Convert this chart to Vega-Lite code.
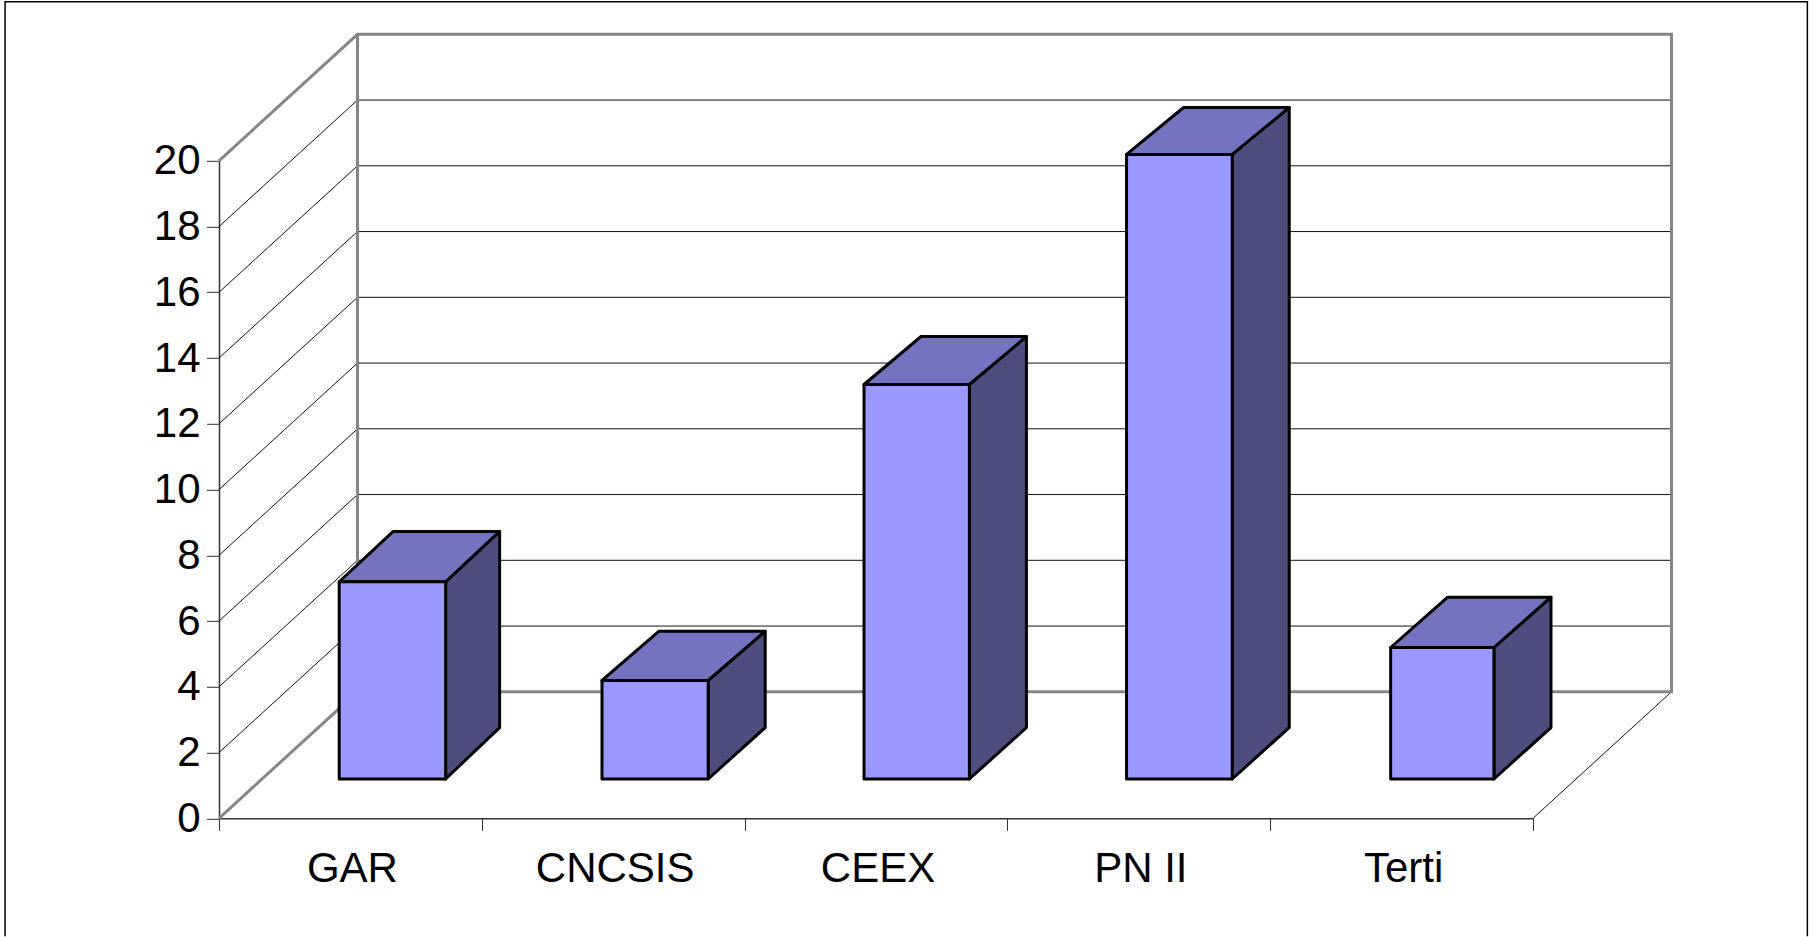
{
"$schema":"https://vega.github.io/schema/vega-lite/v6.json",
"width":1314,"height":657.5,
"autosize":"none",
"padding":{"left":219,"top":160.8,"right":285,"bottom":118.7},
"background":"white",
"view":{"stroke":null},
"datasets":{
"frame":[{"part":"frame","i":1,"x":-0.814,"y":-3.59},{"part":"frame","i":2,"x":-0.814,"y":24.84},{"part":"frame","i":3,"x":6.044,"y":24.84},{"part":"frame","i":4,"x":6.044,"y":-3.59}],
"walls":[
{"part":"outer","i":1,"x":0,"y":20},{"part":"outer","i":2,"x":0.527,"y":23.848},{"part":"outer","i":3,"x":5.527,"y":23.848},{"part":"outer","i":4,"x":5.527,"y":3.848},{"part":"outer","i":5,"x":0.527,"y":3.848},{"part":"outer","i":6,"x":0,"y":0},
{"part":"corner","i":1,"x":0.527,"y":3.848},{"part":"corner","i":2,"x":0.527,"y":23.848}],
"grid":[
{"part":"floor","i":1,"x":5,"y":0},{"part":"floor","i":2,"x":5.527,"y":3.848},
{"part":"g2","i":1,"x":0,"y":2},{"part":"g2","i":2,"x":0.527,"y":5.848},{"part":"g2","i":3,"x":5.527,"y":5.848},
{"part":"g4","i":1,"x":0,"y":4},{"part":"g4","i":2,"x":0.527,"y":7.848},{"part":"g4","i":3,"x":5.527,"y":7.848},
{"part":"g6","i":1,"x":0,"y":6},{"part":"g6","i":2,"x":0.527,"y":9.848},{"part":"g6","i":3,"x":5.527,"y":9.848},
{"part":"g8","i":1,"x":0,"y":8},{"part":"g8","i":2,"x":0.527,"y":11.848},{"part":"g8","i":3,"x":5.527,"y":11.848},
{"part":"g10","i":1,"x":0,"y":10},{"part":"g10","i":2,"x":0.527,"y":13.848},{"part":"g10","i":3,"x":5.527,"y":13.848},
{"part":"g12","i":1,"x":0,"y":12},{"part":"g12","i":2,"x":0.527,"y":15.848},{"part":"g12","i":3,"x":5.527,"y":15.848},
{"part":"g14","i":1,"x":0,"y":14},{"part":"g14","i":2,"x":0.527,"y":17.848},{"part":"g14","i":3,"x":5.527,"y":17.848},
{"part":"g16","i":1,"x":0,"y":16},{"part":"g16","i":2,"x":0.527,"y":19.848},{"part":"g16","i":3,"x":5.527,"y":19.848},
{"part":"g18","i":1,"x":0,"y":18},{"part":"g18","i":2,"x":0.527,"y":21.848},{"part":"g18","i":3,"x":5.527,"y":21.848}],
"bars":[
{"category":"GAR","y":6,"x":0.293,"x2":0.698},
{"category":"CNCSIS","y":3,"x":1.293,"x2":1.697},
{"category":"CEEX","y":12,"x":2.29,"x2":2.691},
{"category":"PN II","y":19,"x":3.289,"x2":3.691},
{"category":"Terti","y":4,"x":4.294,"x2":4.687}],
"sides":[
{"category":"GAR","x":0.698,"y":6,"y2":0},{"category":"GAR","x":0.9035,"y":7.53,"y2":1.565},
{"category":"CNCSIS","x":1.697,"y":3,"y2":0},{"category":"CNCSIS","x":1.914,"y":4.495,"y2":1.565},
{"category":"CEEX","x":2.691,"y":12,"y2":0},{"category":"CEEX","x":2.908,"y":13.46,"y2":1.565},
{"category":"PN II","x":3.691,"y":19,"y2":0},{"category":"PN II","x":3.908,"y":20.425,"y2":1.565},
{"category":"Terti","x":4.687,"y":4,"y2":0},{"category":"Terti","x":4.904,"y":5.53,"y2":1.565}],
"tops":[
{"category":"GAR","y":6,"x":0.293,"x2":0.698},{"category":"GAR","y":7.53,"x":0.4985,"x2":0.9035},
{"category":"CNCSIS","y":3,"x":1.293,"x2":1.697},{"category":"CNCSIS","y":4.495,"x":1.51,"x2":1.914},
{"category":"CEEX","y":12,"x":2.29,"x2":2.691},{"category":"CEEX","y":13.46,"x":2.507,"x2":2.908},
{"category":"PN II","y":19,"x":3.289,"x2":3.691},{"category":"PN II","y":20.425,"x":3.506,"x2":3.908},
{"category":"Terti","y":4,"x":4.294,"x2":4.687},{"category":"Terti","y":5.53,"x":4.511,"x2":4.904}]
},
"encoding":{
"x":{"field":"x","type":"quantitative","title":null,"scale":{"domain":[0,5],"nice":false,"zero":false},
"axis":{"values":[0,0.5,1,1.5,2,2.5,3,3.5,4,4.5,5],"grid":false,"domainColor":"#333333","domainWidth":1.5,"tickColor":"#333333","tickWidth":1,"tickSize":12,
"tickOpacity":{"condition":{"test":"datum.value % 1 === 0","value":1},"value":0},
"labelExpr":"datum.value === 0.5 ? 'GAR' : datum.value === 1.5 ? 'CNCSIS' : datum.value === 2.5 ? 'CEEX' : datum.value === 3.5 ? 'PN II' : datum.value === 4.5 ? 'Terti' : ''",
"labelFont":"Liberation Sans","labelFontSize":42,"labelColor":"#000000","labelPadding":18,"labelOffset":1.5,"labelAngle":0,"labelOverlap":false,"labelBound":false,"labelFlush":false}},
"y":{"field":"y","type":"quantitative","title":null,"scale":{"domain":[0,20],"nice":false,"zero":false},
"axis":{"values":[0,2,4,6,8,10,12,14,16,18,20],"grid":false,"domainColor":"#333333","domainWidth":1.5,"tickColor":"#333333","tickWidth":1,"tickSize":12.5,
"labelFont":"Liberation Sans","labelFontSize":42,"labelColor":"#000000","labelPadding":6.5,"labelOverlap":false,"labelBound":false,"labelFlush":false}}
},
"layer":[
{"data":{"name":"frame"},"mark":{"type":"line","stroke":"#000000","strokeWidth":1.5,"clip":false},"encoding":{"detail":{"field":"part"},"order":{"field":"i"}}},
{"data":{"name":"grid"},"mark":{"type":"line","stroke":"#111111","strokeWidth":1},"encoding":{"detail":{"field":"part"},"order":{"field":"i"}}},
{"data":{"name":"walls"},"mark":{"type":"line","stroke":"#868686","strokeWidth":3,"strokeJoin":"miter"},"encoding":{"detail":{"field":"part"},"order":{"field":"i"}}},
{"data":{"name":"sides"},"mark":{"type":"area","fill":"#4d4d80","stroke":"#000000","strokeWidth":3,"strokeJoin":"round","opacity":1,"xOffset":43.2,"yOffset":-39.3,"y2Offset":-39.3},"encoding":{"detail":{"field":"category"},"y2":{"field":"y2"}}},
{"data":{"name":"tops"},"mark":{"type":"area","orient":"horizontal","fill":"#7373bf","stroke":"#000000","strokeWidth":3,"strokeJoin":"round","opacity":1,"xOffset":43.2,"x2Offset":43.2,"yOffset":-39.3},"encoding":{"detail":{"field":"category"},"x2":{"field":"x2"}}},
{"data":{"name":"bars"},"mark":{"type":"rect","fill":"#9999ff","stroke":"#000000","strokeWidth":3,"strokeJoin":"round","xOffset":43.2,"x2Offset":43.2,"yOffset":-39.3,"y2Offset":-39.3},"encoding":{"x2":{"field":"x2"},"y2":{"datum":0}}}
]
}
